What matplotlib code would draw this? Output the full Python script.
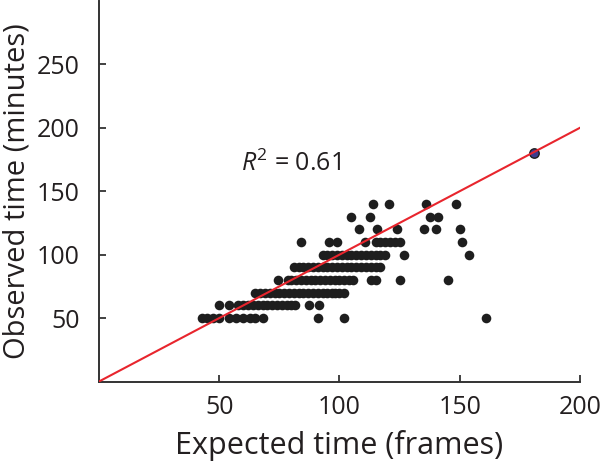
import matplotlib
matplotlib.use("Agg")
import matplotlib.pyplot as plt
import numpy as np

plt.rcParams['font.family'] = ['Open Sans', 'DejaVu Sans']
plt.rcParams['mathtext.fontset'] = 'custom'
plt.rcParams['mathtext.rm'] = 'Open Sans'
plt.rcParams['mathtext.it'] = 'Open Sans:italic'

# observed time rows (minutes) and the expected times (frames) in each row
row50 = [43, 45, 47.5, 50, 54, 57, 60, 63, 65, 68, 91, 102, 161]
row60 = [50, 54, 58, 60, 62, 64, 66, 68, 70, 72, 74, 76, 78, 80, 81.5, 87.5, 91.5]
row70 = [65, 67, 69, 71, 73, 75, 77, 79, 81, 83, 85, 87, 89, 91, 93, 95, 97, 98, 100, 102]
row80 = [74.5, 78.5, 80, 82, 84, 86, 88, 90, 92, 94, 96, 98, 100, 102, 104, 105.5,
         113, 115, 125, 145]
row90 = [81, 83, 85, 87, 89, 91, 93, 95, 97, 99, 101, 103, 105, 107, 109, 111, 113, 115, 117]
row100 = [93, 95, 97, 99, 101, 103, 105, 107, 109, 111, 113, 115, 117, 119, 127, 154]
row110 = [84, 95.5, 99, 110.5, 115, 117, 119, 121, 123, 125, 151]
row120 = [108, 115.5, 124, 135, 140, 150]
row130 = [105, 112.5, 137.5, 141]
row140 = [114, 120.5, 136, 148.5]

rows = {50: row50, 60: row60, 70: row70, 80: row80, 90: row90,
        100: row100, 110: row110, 120: row120, 130: row130, 140: row140}
expected = np.concatenate([np.array(v, float) for v in rows.values()])
observed = np.concatenate([np.full(len(v), k, float) for k, v in rows.items()])

highlight_x, highlight_y = 181, 180
r2 = 0.61

fig = plt.figure(figsize=(6.01, 4.63), dpi=100)
ax = fig.add_axes([0.1647, 0.176, 0.8003, 0.8220])

ax.scatter(expected, observed, s=48, color='#1e1e1e', linewidths=0, zorder=2)
ax.scatter([highlight_x], [highlight_y], s=46, color='#3c3c8c', edgecolors='#1e1e1e',
           linewidths=1, zorder=2)
ax.plot([0, 200], [0, 200], color='#e8252d', lw=1.5, zorder=3)

ax.text(80, 172, r'$R^2$' + ' = %.2f' % r2, fontsize=18, ha='center', va='center',
        color='#231f20')

ax.set_xlim(0, 200)
ax.set_ylim(0, 300)
ax.set_xticks([50, 100, 150, 200])
ax.set_yticks([50, 100, 150, 200, 250])
for s in ['top', 'right']:
    ax.spines[s].set_visible(False)
for s in ['left', 'bottom']:
    ax.spines[s].set_linewidth(1.4)
    ax.spines[s].set_color('#333333')
ax.tick_params(direction='in', length=5, width=1.3, color='#333333',
               labelsize=18, labelcolor='#231f20')
ax.tick_params(axis='y', pad=14)
ax.tick_params(axis='x', pad=10)

ax.set_xlabel('Expected time (frames)', fontsize=22, color='#231f20', labelpad=7)
ax.set_ylabel('Observed time (minutes)', fontsize=21, color='#231f20', labelpad=4)

fig.savefig('out.png', dpi=100)
